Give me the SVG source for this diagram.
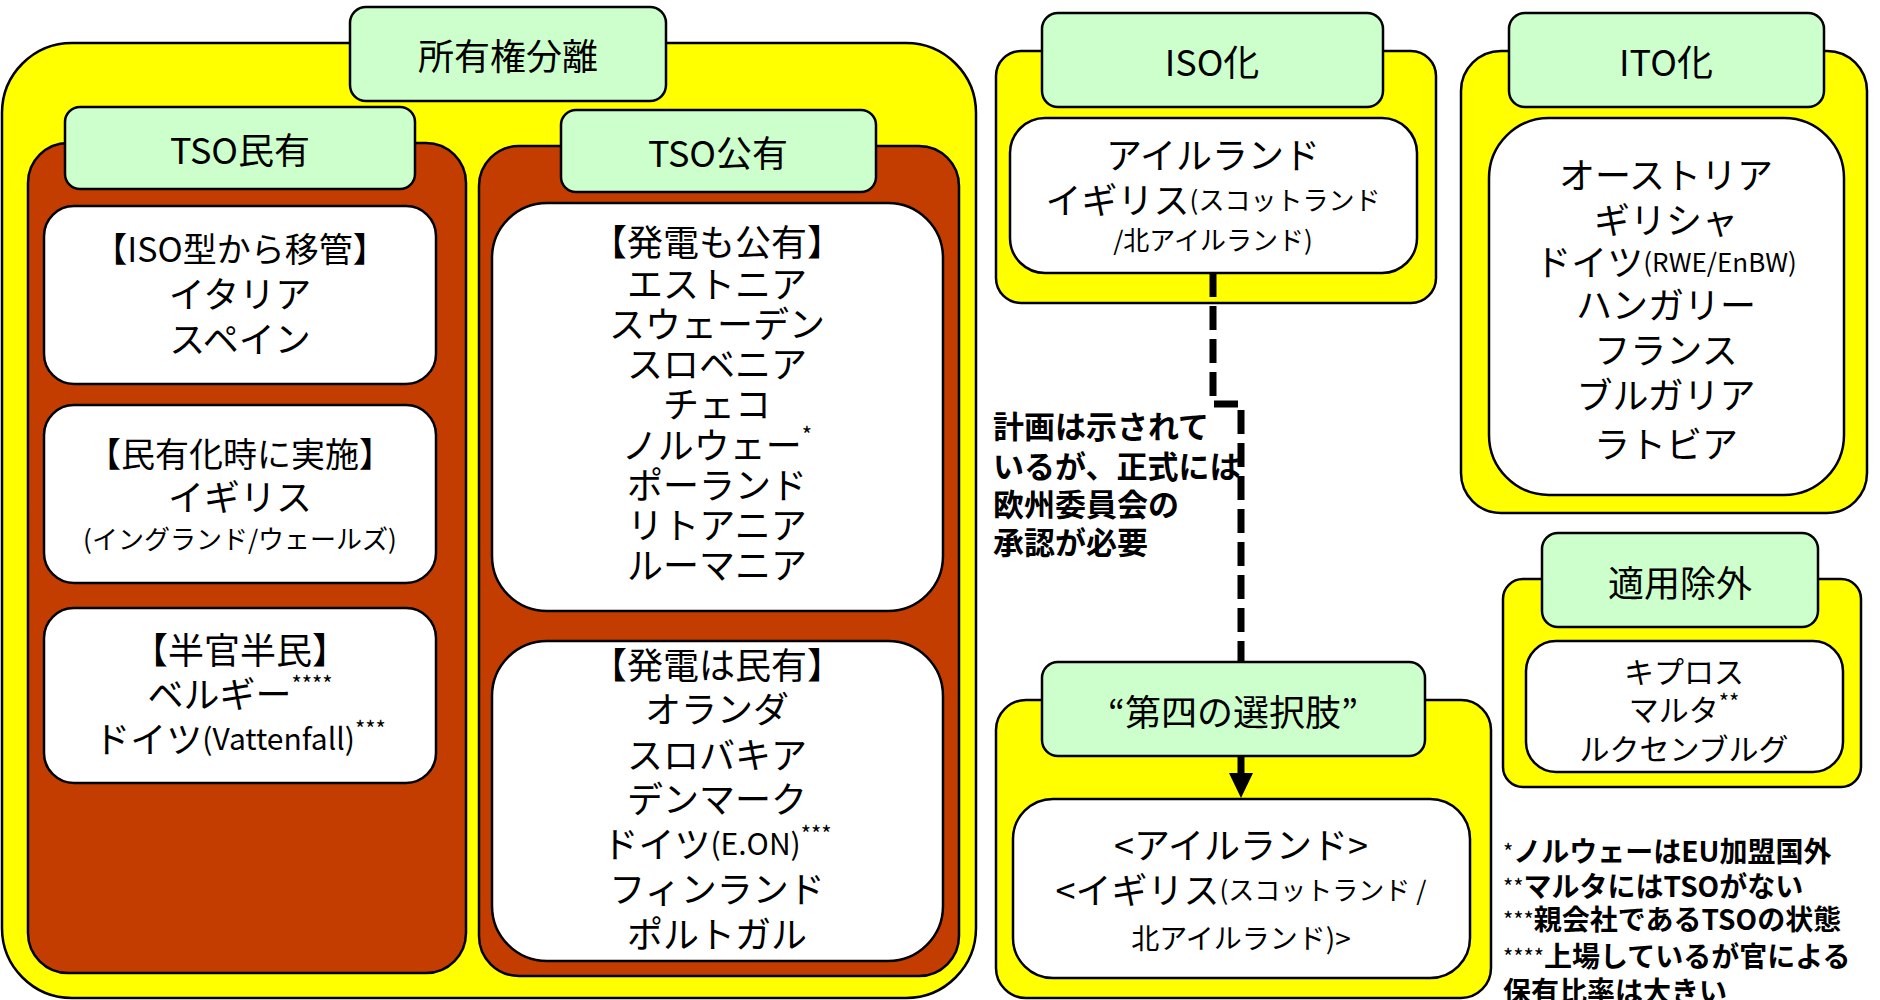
<svg xmlns="http://www.w3.org/2000/svg" width="1880" height="1000" viewBox="0 0 1880 1000">
<defs>
<style>
.yel{fill:#FFFF00;stroke:#000;stroke-width:2.5}
.brn{fill:#C43D00;stroke:#000;stroke-width:2.5}
.lab{fill:#CCFFCC;stroke:#000;stroke-width:2.5}
.wht{fill:#FFFFFF;stroke:#000;stroke-width:2.5}
text{font-family:"Noto Sans CJK JP","Noto Sans",sans-serif;fill:#000;dominant-baseline:central}
.c{text-anchor:middle}
.t36{font-size:36px}
.t34{font-size:34px}
.t30{font-size:30px}
.s{font-size:26px}
.ast{font-size:22px}
.b{font-weight:bold}
.note{font-size:31px;font-weight:bold}
.fn{font-size:28px;font-weight:bold}
</style>
<marker id="arr" viewBox="0 0 10 10" refX="9" refY="5" markerWidth="4" markerHeight="4" orient="auto" markerUnits="strokeWidth">
<path d="M0,0 L10,5 L0,10 Z" fill="#000"/>
</marker>
</defs>

<g id="ownership">
<rect class="yel" x="2" y="43" width="974" height="955" rx="70"/>
<rect class="lab" x="350" y="7" width="316" height="94" rx="16"/>
<text class="c t36" x="508" y="54">所有権分離</text>
</g>

<g id="tso-private">
<rect class="brn" x="28" y="143" width="438" height="830" rx="40"/>
<rect class="lab" x="65" y="107" width="350" height="82" rx="15"/>
<text class="c t36" x="240" y="148">TSO民有</text>
</g>

<g id="tso-public">
<rect class="brn" x="479" y="146" width="480" height="830" rx="40"/>
<rect class="lab" x="561" y="110" width="315" height="82" rx="15"/>
<text class="c t36" x="718" y="151">TSO公有</text>
</g>

<g id="box-iso-transfer">
<rect class="wht" x="44" y="206" width="392" height="178" rx="30"/>
<text class="c t34" x="240" y="247">【ISO型から移管】</text>
<text class="c t36" x="240" y="292">イタリア</text>
<text class="c t36" x="240" y="337">スペイン</text>
</g>

<g id="box-privatization">
<rect class="wht" x="44" y="405" width="392" height="178" rx="30"/>
<text class="c t34" x="240" y="452">【民有化時に実施】</text>
<text class="c t36" x="240" y="495">イギリス</text>
<text class="c s" x="240" y="537">(イングランド/ウェールズ)</text>
</g>

<g id="box-semi">
<rect class="wht" x="44" y="608" width="392" height="175" rx="30"/>
<text class="c t36" x="240" y="648">【半官半民】</text>
<text class="c t36" x="240" y="692">ベルギー<tspan class="ast" dy="-10">****</tspan></text>
<text class="c t36" x="240" y="737">ドイツ<tspan class="t30">(Vattenfall)</tspan><tspan class="ast" dy="-10">***</tspan></text>
</g>

<g id="box-gen-public">
<rect class="wht" x="492" y="203" width="451" height="408" rx="55"/>
<text class="c t36" x="717" y="240">【発電も公有】</text>
<text class="c t36" x="717" y="282">エストニア</text>
<text class="c t36" x="717" y="322">スウェーデン</text>
<text class="c t36" x="717" y="362">スロベニア</text>
<text class="c t36" x="717" y="402">チェコ</text>
<text class="c t36" x="717" y="443">ノルウェー<tspan class="ast" dy="-10">*</tspan></text>
<text class="c t36" x="717" y="483">ポーランド</text>
<text class="c t36" x="717" y="523">リトアニア</text>
<text class="c t36" x="717" y="563">ルーマニア</text>
</g>

<g id="box-gen-private">
<rect class="wht" x="492" y="641" width="451" height="320" rx="55"/>
<text class="c t36" x="717" y="663">【発電は民有】</text>
<text class="c t36" x="717" y="707">オランダ</text>
<text class="c t36" x="717" y="753">スロバキア</text>
<text class="c t36" x="717" y="797">デンマーク</text>
<text class="c t36" x="717" y="842">ドイツ<tspan class="t30">(E.ON)</tspan><tspan class="ast" dy="-10">***</tspan></text>
<text class="c t36" x="717" y="887">フィンランド</text>
<text class="c t36" x="717" y="932">ポルトガル</text>
</g>

<g id="iso">
<rect class="yel" x="996" y="51" width="440" height="252" rx="25"/>
<rect class="lab" x="1042" y="13" width="341" height="94" rx="16"/>
<text class="c t36" x="1212" y="60">ISO化</text>
<rect class="wht" x="1010" y="118" width="407" height="155" rx="35"/>
<text class="c t36" x="1213" y="153">アイルランド</text>
<text class="c t36" x="1213" y="198">イギリス<tspan class="s">(スコットランド</tspan></text>
<text class="c s" x="1213" y="238">/北アイルランド)</text>
</g>

<g id="ito">
<rect class="yel" x="1461" y="51" width="406" height="462" rx="40"/>
<rect class="lab" x="1509" y="13" width="315" height="94" rx="16"/>
<text class="c t36" x="1666" y="60">ITO化</text>
<rect class="wht" x="1489" y="118" width="355" height="377" rx="60"/>
<text class="c t36" x="1666" y="173">オーストリア</text>
<text class="c t36" x="1666" y="218">ギリシャ</text>
<text class="c t36" x="1666" y="260">ドイツ<tspan class="s">(RWE/EnBW)</tspan></text>
<text class="c t36" x="1666" y="303">ハンガリー</text>
<text class="c t36" x="1666" y="348">フランス</text>
<text class="c t36" x="1666" y="393">ブルガリア</text>
<text class="c t36" x="1666" y="442">ラトビア</text>
</g>

<g id="exempt">
<rect class="yel" x="1503" y="579" width="358" height="208" rx="20"/>
<rect class="lab" x="1542" y="533" width="276" height="94" rx="16"/>
<text class="c t36" x="1680" y="581">適用除外</text>
<rect class="wht" x="1526" y="641" width="317" height="131" rx="30"/>
<text class="c t30" x="1684" y="670">キプロス</text>
<text class="c t30" x="1684" y="708">マルタ<tspan class="ast" dy="-8">**</tspan></text>
<text class="c t30" x="1684" y="747">ルクセンブルグ</text>
</g>

<g id="fourth">
<rect class="yel" x="996" y="700" width="495" height="298" rx="30"/>
<rect class="lab" x="1042" y="662" width="383" height="94" rx="16"/>
<text class="c t36" x="1233" y="710">“第四の選択肢”</text>
<rect class="wht" x="1013" y="799" width="457" height="179" rx="40"/>
<text class="c t36" x="1241" y="843">&lt;アイルランド&gt;</text>
<text class="c t36" x="1241" y="888">&lt;イギリス<tspan class="s">(スコットランド /</tspan></text>
<text class="c s" x="1241" y="937" style="font-size:28px">北アイルランド)&gt;</text>
</g>

<g id="note">
<text class="note" x="993" y="424">計画は示されて</text>
<text class="note" x="993" y="464">いるが、正式には</text>
<text class="note" x="993" y="502">欧州委員会の</text>
<text class="note" x="993" y="540">承認が必要</text>
</g>

<g id="footnotes">
<text class="fn" x="1503" y="850"><tspan class="ast" font-weight="normal">*</tspan>ノルウェーはEU加盟国外</text>
<text class="fn" x="1503" y="885"><tspan class="ast" font-weight="normal">**</tspan>マルタにはTSOがない</text>
<text class="fn" x="1503" y="918"><tspan class="ast" font-weight="normal">***</tspan>親会社であるTSOの状態</text>
<text class="fn" x="1503" y="955"><tspan class="ast" font-weight="normal">****</tspan>上場しているが官による</text>
<text class="fn" x="1503" y="990">保有比率は大きい</text>
</g>

<g id="connectors">
<path d="M1213,273 V404 H1241 V662" fill="none" stroke="#000" stroke-width="7" stroke-dasharray="24,9"/>
<path d="M1241,757 V775" fill="none" stroke="#000" stroke-width="7"/>
<path d="M1229,773 L1253,773 L1241,798 Z" fill="#000"/>
</g>
</svg>
